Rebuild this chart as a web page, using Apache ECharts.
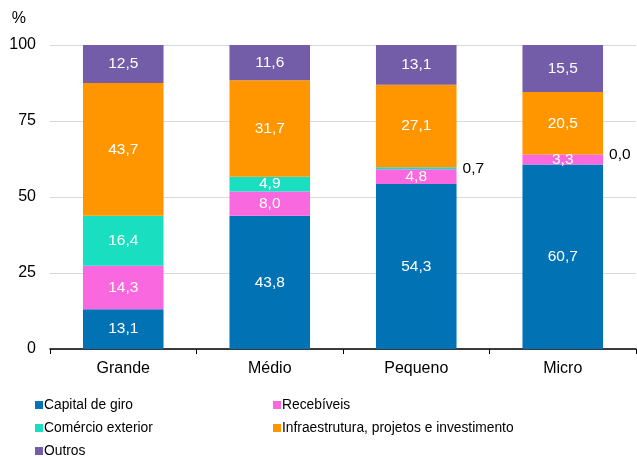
<!DOCTYPE html>
<html>
<head>
<meta charset="utf-8">
<script src="https://cdn.jsdelivr.net/npm/echarts@6/dist/echarts.min.js"></script>
<style>
  html, body { margin: 0; padding: 0; background: #fff; }
  #chart { width: 637px; height: 457px; }
</style>
</head>
<body>
<div id="chart"></div>
<script>
const categories = ["Grande", "Médio", "Pequeno", "Micro"];
const capitalGiro = [13.1, 43.8, 54.3, 60.7];
const recebiveis = [14.3, 8.0, 4.8, 3.3];
const comercioExterior = [16.4, 4.9, 0.7, 0.0];
const infraestrutura = [43.7, 31.7, 27.1, 20.5];
const outros = [12.5, 11.6, 13.1, 15.5];
const yTicks = [0, 25, 50, 75, 100];

const font = "Liberation Sans, Arial, sans-serif";
const fmt = (v) => v.toFixed(1).replace(".", ",");

function series(name, data, color) {
  return {
    name: name,
    type: "bar",
    stack: "total",
    barWidth: "55%",
    data: data,
    itemStyle: { color: color },
    label: {
      show: true,
      position: "inside",
      color: "#fff",
      fontFamily: font,
      fontSize: 15.5,
      formatter: (p) => fmt(p.value),
    },
  };
}

const s3 = series("Comércio exterior", comercioExterior.map((v) => {
  // small segments get their label outside, to the right
  if (v < 2) {
    return { value: v, label: { position: "right", color: "#000", distance: 6 } };
  }
  return v;
}), "#1ADEC0");

const legendText = {
  fontFamily: font,
  fontSize: 13.8,
  color: "#000",
  padding: [0, 0, 0, -4],
};

const option = {
  animation: false,
  grid: { left: 50, right: 1, top: 45, bottom: 108 },
  legend: [
    {
      left: 35,
      top: 398,
      height: 80,
      padding: 0,
      orient: "vertical",
      itemWidth: 8,
      itemHeight: 8,
      itemGap: 9,
      icon: "rect",
      data: ["Capital de giro", "Comércio exterior", "Outros"],
      textStyle: legendText,
    },
    {
      left: 273,
      top: 398,
      height: 80,
      padding: 0,
      orient: "vertical",
      itemWidth: 8,
      itemHeight: 8,
      itemGap: 9,
      icon: "rect",
      data: ["Recebíveis", "Infraestrutura, projetos e investimento"],
      textStyle: legendText,
    },
  ],
  xAxis: {
    type: "category",
    data: categories,
    axisLine: { show: true, lineStyle: { color: "#000", width: 1.5 } },
    axisTick: { show: true, length: 5, lineStyle: { color: "#000" } },
    axisLabel: { color: "#000", fontFamily: font, fontSize: 16, margin: 12 },
  },
  yAxis: {
    type: "value",
    min: yTicks[0],
    max: yTicks[yTicks.length - 1],
    interval: 25,
    name: "%",
    nameLocation: "end",
    nameGap: 18,
    nameTextStyle: { color: "#000", fontFamily: font, fontSize: 16, align: "right", padding: [0, 24, 0, 0] },
    axisLine: { show: false },
    axisTick: { show: false },
    axisLabel: { color: "#000", fontFamily: font, fontSize: 16, margin: 14 },
    splitLine: { lineStyle: { color: "#d9d9d9", width: 1 } },
  },
  series: [
    series("Capital de giro", capitalGiro, "#0173B4"),
    series("Recebíveis", recebiveis, "#F968DF"),
    s3,
    series("Infraestrutura, projetos e investimento", infraestrutura, "#FF9600"),
    series("Outros", outros, "#735CA8"),
  ],
};

const chart = echarts.init(document.getElementById("chart"));
chart.setOption(option);
</script>
</body>
</html>
